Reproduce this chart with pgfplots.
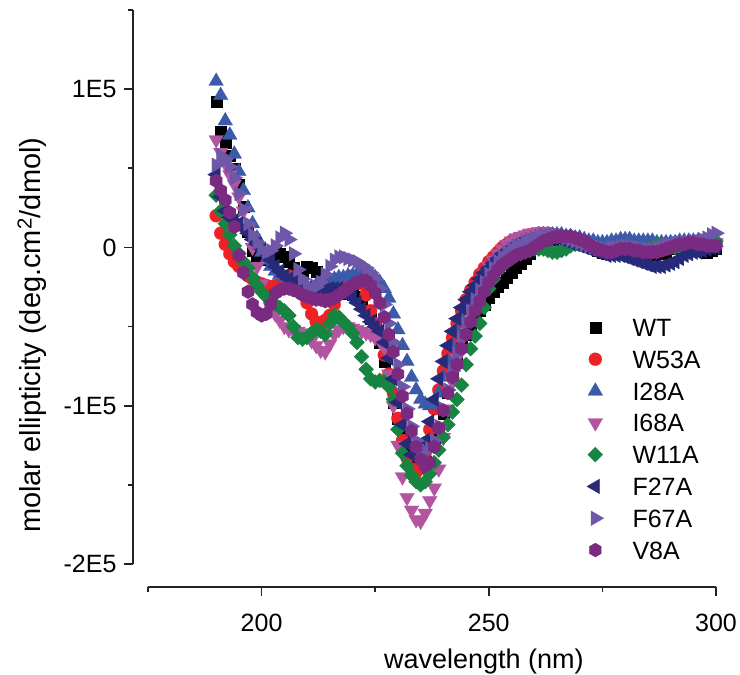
\documentclass[border=0pt]{standalone}
\usepackage{fontspec}
\setmainfont{Liberation Sans}
\usepackage{pgfplots}
\usepackage{pgfplotstable}
\pgfplotsset{compat=1.18}

\definecolor{cWT}{HTML}{000000}
\definecolor{cW53}{HTML}{EC2227}
\definecolor{cI28}{HTML}{3B5BAA}
\definecolor{cI68}{HTML}{B354A1}
\definecolor{cW11}{HTML}{178441}
\definecolor{cF27}{HTML}{262A78}
\definecolor{cF67}{HTML}{6E56A8}
\definecolor{cV8}{HTML}{7A2A80}
\definecolor{axc}{HTML}{222222}

\pgfdeclareplotmark{hexagon*}{%
  \pgfpathmoveto{\pgfqpointpolar{90}{\pgfplotmarksize}}%
  \pgfpathlineto{\pgfqpointpolar{150}{\pgfplotmarksize}}%
  \pgfpathlineto{\pgfqpointpolar{210}{\pgfplotmarksize}}%
  \pgfpathlineto{\pgfqpointpolar{270}{\pgfplotmarksize}}%
  \pgfpathlineto{\pgfqpointpolar{330}{\pgfplotmarksize}}%
  \pgfpathlineto{\pgfqpointpolar{30}{\pgfplotmarksize}}%
  \pgfpathclose
  \pgfusepathqfillstroke
}

\pgfplotsset{
  mk/.style n args={4}{only marks, mark=#1, mark size=#3,
    mark options={solid, fill=#2, draw=#2, line width=0.2pt, #4}, color=#2,
    legend image code/.code={\path (-9pt,-9pt) (9pt,9pt);
      \draw[##1] plot coordinates {(0pt,0pt)};}},
}

% molar ellipticity in units of 1E4 deg cm^2/dmol
\pgfplotstableread{
nm WT W53A I28A I68A W11A F27A F67A V8A
190 9.2 2.0 10.5 6.8 3.3 4.6 5.2 4.2
191 7.3 0.9 9.6 6.0 2.3 3.2 5.8 3.6
192 6.6 0.2 8.0 5.3 1.5 2.3 5.6 3.0
193 5.8 -0.4 7.1 4.6 0.8 1.9 5.1 2.2
194 5.0 -0.9 5.9 4.0 0.1 1.7 4.4 1.3
195 4.0 -1.2 4.8 3.2 -0.4 1.5 3.4 -0.5
196 2.6 -1.5 3.6 2.3 -0.9 1.2 2.4 -1.6
197 1.0 -1.8 2.5 1.2 -1.3 0.9 1.5 -2.8
198 -0.2 -2.0 1.5 0.0 -1.9 0.5 0.8 -3.6
199 -0.5 -2.2 0.6 -1.2 -2.4 0.2 0.3 -4.1
200 -0.8 -2.3 -0.3 -2.3 -2.8 -0.1 -0.1 -4.3
201 -0.7 -2.4 -0.8 -3.2 -3.1 -0.4 -0.3 -4.2
202 -0.5 -2.5 -1.2 -3.8 -3.4 -0.8 -0.2 -3.6
203 -0.3 -2.4 -1.5 -4.2 -3.6 -1.2 0.1 -2.9
204 -0.4 -2.3 -1.7 -4.6 -3.8 -1.5 0.6 -2.7
205 -0.6 -2.0 -1.9 -5.0 -4.0 -1.8 0.9 -2.6
206 -0.9 -1.8 -2.0 -5.2 -4.3 -2.0 0.5 -2.6
207 -1.3 -1.9 -2.2 -5.2 -5.0 -2.2 -0.4 -2.7
208 -1.6 -2.3 -2.3 -5.3 -5.7 -2.4 -1.4 -2.8
209 -1.5 -2.8 -2.4 -5.4 -5.8 -2.5 -2.0 -3.0
210 -1.2 -3.5 -2.5 -5.6 -5.7 -2.6 -2.4 -3.1
211 -1.3 -4.2 -2.5 -5.9 -5.4 -2.6 -2.6 -3.2
212 -1.5 -4.7 -2.4 -6.2 -5.2 -2.6 -2.5 -3.3
213 -1.9 -4.8 -2.3 -6.5 -5.3 -2.6 -2.2 -3.3
214 -2.2 -4.6 -2.2 -6.6 -5.5 -2.6 -1.7 -3.4
215 -2.4 -4.3 -2.1 -6.1 -4.8 -2.6 -1.2 -3.3
216 -2.3 -3.6 -2.0 -5.5 -4.3 -2.6 -0.8 -3.2
217 -2.5 -2.8 -1.9 -5.2 -4.4 -2.6 -0.6 -3.0
218 -2.8 -2.2 -1.9 -5.0 -4.7 -2.7 -0.6 -2.8
219 -2.9 -1.9 -1.8 -5.0 -5.0 -2.9 -0.7 -2.6
220 -3.0 -1.8 -1.8 -5.1 -5.4 -3.2 -0.8 -2.4
221 -3.1 -2.0 -1.7 -5.2 -6.0 -3.5 -0.9 -2.2
222 -3.6 -2.3 -1.7 -5.3 -6.9 -3.9 -1.1 -2.1
223 -4.0 -3.0 -1.7 -5.4 -7.7 -4.3 -1.3 -2.1
224 -4.5 -4.0 -1.8 -5.5 -8.3 -4.7 -1.6 -2.4
225 -5.1 -4.8 -1.9 -5.7 -8.5 -5.0 -2.0 -2.9
226 -6.0 -5.6 -2.2 -5.9 -8.4 -5.3 -2.6 -3.5
227 -7.2 -6.8 -2.6 -6.3 -8.5 -6.0 -3.6 -4.4
228 -8.5 -8.0 -3.2 -8.0 -8.8 -7.0 -4.8 -5.5
229 -9.8 -9.2 -4.2 -10.0 -9.6 -8.3 -6.0 -6.6
230 -10.8 -10.8 -5.2 -12.5 -11.5 -9.8 -7.4 -8.0
231 -11.8 -12.2 -6.2 -14.5 -13.0 -11.2 -8.8 -9.4
232 -12.6 -13.3 -7.2 -15.8 -13.8 -12.4 -10.2 -10.5
233 -13.3 -14.0 -8.2 -16.6 -14.4 -13.1 -11.3 -11.6
234 -13.8 -14.2 -9.0 -17.2 -14.8 -13.2 -12.2 -12.6
235 -13.9 -13.8 -9.6 -17.3 -15.0 -12.9 -12.7 -13.4
236 -13.5 -13.0 -9.9 -16.8 -14.8 -12.2 -12.9 -13.8
237 -12.5 -11.5 -10.0 -16.0 -14.3 -11.0 -12.7 -13.6
238 -12.0 -10.2 -9.9 -15.2 -13.6 -9.6 -12.2 -12.6
239 -11.6 -9.0 -9.2 -14.0 -12.8 -8.3 -11.3 -11.4
240 -10.5 -7.8 -8.2 -12.0 -12.0 -7.2 -10.2 -10.3
241 -9.2 -6.7 -7.2 -10.2 -11.2 -6.2 -9.0 -9.2
242 -8.0 -5.7 -6.2 -8.5 -10.4 -5.3 -7.8 -8.2
243 -7.0 -4.8 -5.3 -7.0 -9.6 -4.5 -6.7 -7.4
244 -6.2 -4.0 -4.5 -5.8 -8.7 -3.8 -5.7 -6.4
245 -5.5 -3.3 -3.8 -4.7 -7.4 -3.3 -4.8 -5.5
246 -4.9 -2.7 -3.2 -3.8 -6.4 -2.8 -4.0 -4.7
247 -4.4 -2.2 -2.6 -3.0 -5.6 -2.4 -3.3 -4.0
248 -4.0 -1.7 -2.1 -2.3 -4.8 -2.0 -2.7 -3.4
249 -3.6 -1.3 -1.6 -1.7 -3.8 -1.6 -2.2 -2.8
250 -3.2 -0.9 -1.2 -1.2 -2.6 -1.3 -1.7 -2.2
251 -2.8 -0.6 -0.9 -0.8 -2.0 -1.0 -1.3 -1.8
252 -2.5 -0.3 -0.6 -0.4 -1.5 -0.7 -0.9 -1.4
253 -2.2 0.0 -0.3 -0.1 -1.2 -0.4 -0.6 -1.1
254 -1.9 0.2 -0.1 0.2 -0.9 -0.2 -0.3 -0.9
255 -1.6 0.4 0.1 0.4 -0.7 0.0 -0.1 -0.7
256 -1.3 0.5 0.3 0.6 -0.5 0.2 0.1 -0.5
257 -1.0 0.6 0.4 0.7 -0.4 0.3 0.2 -0.4
258 -0.7 0.7 0.5 0.8 -0.3 0.4 0.4 -0.3
259 -0.4 0.8 0.6 0.9 -0.2 0.5 0.5 -0.2
260 -0.1 0.8 0.7 0.9 -0.1 0.5 0.6 0.0
261 0.2 0.9 0.8 1.0 -0.1 0.5 0.7 0.2
262 0.4 0.9 0.8 1.0 -0.1 0.5 0.8 0.4
263 0.5 0.9 0.8 0.9 -0.2 0.6 0.8 0.5
264 0.5 0.8 0.8 0.9 -0.3 0.6 0.8 0.6
265 0.6 0.8 0.8 0.8 -0.3 0.6 0.8 0.7
266 0.6 0.7 0.8 0.8 -0.2 0.5 0.7 0.7
267 0.6 0.7 0.7 0.7 -0.1 0.4 0.6 0.7
268 0.5 0.6 0.7 0.6 0.1 0.3 0.5 0.7
269 0.5 0.5 0.6 0.5 0.2 0.2 0.4 0.6
270 0.4 0.4 0.6 0.4 0.2 0.1 0.3 0.5
271 0.3 0.3 0.5 0.3 0.2 0.0 0.2 0.4
272 0.1 0.2 0.4 0.2 0.1 -0.1 0.1 0.2
273 -0.1 0.1 0.4 0.1 0.0 -0.2 0.0 0.0
274 -0.2 0.0 0.3 0.0 -0.1 -0.3 -0.1 -0.1
275 -0.3 -0.1 0.3 0.0 -0.2 -0.4 -0.1 -0.2
276 -0.4 -0.2 0.3 -0.1 -0.2 -0.5 -0.1 -0.3
277 -0.4 -0.2 0.4 -0.1 -0.2 -0.5 0.0 -0.3
278 -0.3 -0.2 0.4 0.0 -0.1 -0.5 0.0 -0.2
279 -0.3 -0.1 0.5 0.0 0.0 -0.5 0.1 -0.1
280 -0.2 -0.1 0.5 0.1 0.0 -0.6 0.1 -0.1
281 -0.3 -0.1 0.5 0.1 0.0 -0.7 0.1 -0.1
282 -0.3 -0.2 0.4 0.0 -0.1 -0.8 0.0 -0.2
283 -0.4 -0.2 0.4 0.0 -0.1 -0.9 0.0 -0.2
284 -0.4 -0.3 0.4 -0.1 -0.2 -1.0 -0.1 -0.3
285 -0.5 -0.3 0.4 -0.1 -0.1 -1.1 -0.1 -0.3
286 -0.5 -0.3 0.4 -0.1 0.0 -1.2 -0.1 -0.3
287 -0.4 -0.2 0.3 0.0 0.2 -1.2 0.0 -0.3
288 -0.4 -0.2 0.3 0.0 0.2 -1.2 0.1 -0.2
289 -0.3 -0.1 0.3 0.1 0.1 -1.1 0.2 -0.1
290 -0.1 0.0 0.3 0.1 0.0 -1.0 0.2 0.0
291 0.0 0.1 0.3 0.2 0.0 -0.9 0.3 0.1
292 0.1 0.1 0.4 0.2 0.0 -0.7 0.3 0.2
293 0.1 0.2 0.4 0.3 0.1 -0.5 0.3 0.2
294 0.1 0.2 0.4 0.3 0.2 -0.4 0.3 0.3
295 0.0 0.3 0.4 0.3 0.2 -0.3 0.4 0.3
296 -0.1 0.3 0.4 0.3 0.2 -0.3 0.4 0.2
297 -0.2 0.2 0.3 0.3 0.2 -0.2 0.5 0.2
298 -0.3 0.2 0.3 0.3 0.3 -0.1 0.6 0.1
299 -0.2 0.2 0.3 0.3 0.4 0.0 0.8 0.1
300 -0.1 0.2 0.3 0.3 0.4 0.0 0.9 0.1
}\cd

\begin{document}
\begin{tikzpicture}
\begin{axis}[
  scale only axis, width=568pt, height=554pt,
  xmin=175, xmax=300, ymin=-20, ymax=15,
  clip=false,
  axis x line*=bottom, axis y line*=left,
  axis x line shift=23pt, axis y line shift=15pt,
  axis line style={line width=1.6pt, color=axc, -},
  every tick/.style={line width=1.6pt, color=axc},
  tick align=outside,
  major tick length=9pt, minor tick length=5pt,
  xtick={200,250,300}, xticklabels={200,250,300},
  minor xtick={175,225,275},
  ytick={-20,-10,0,10}, yticklabels={-2E5,-1E5,0,1E5},
  minor ytick={-15,-5,5,15},
  font=\fontsize{25}{30}\selectfont,
  tick label style={font=\fontsize{25}{30}\selectfont},
  xticklabel style={yshift=-15pt},
  yticklabel style={xshift=-4pt},
  xlabel={wavelength (nm)},
  ylabel={molar ellipticity (deg.cm\textsuperscript{2}/dmol)},
  xlabel style={font=\fontsize{27}{32}\selectfont, at={(rel axis cs:0.5915,-0.1769)}, anchor=center},
  ylabel style={font=\fontsize{29}{34}\selectfont, at={(rel axis cs:-0.2042,0.413)}, anchor=center},
  legend cell align=left,
  legend style={at={(rel axis cs:0.771,0.444)}, anchor=north west,
    draw=none, fill=none, inner sep=0pt, row sep=13.4pt, column sep=28pt,
    nodes={inner sep=0pt, text height=18pt, text depth=0pt},
    font=\fontsize{25}{30}\selectfont},
]
\addplot[mk={square*}{cWT}{5.5pt}{}] table[x=nm,y=WT]{\cd};
\addlegendentry{WT}
\addplot[mk={*}{cW53}{6.5pt}{}] table[x=nm,y=W53A]{\cd};
\addlegendentry{W53A}
\addplot[mk={triangle*}{cI28}{8.5pt}{}] table[x=nm,y=I28A]{\cd};
\addlegendentry{I28A}
\addplot[mk={triangle*}{cI68}{8.5pt}{rotate=180}] table[x=nm,y=I68A]{\cd};
\addlegendentry{I68A}
\addplot[mk={square*}{cW11}{5.3pt}{rotate=45}] table[x=nm,y=W11A]{\cd};
\addlegendentry{W11A}
\addplot[mk={triangle*}{cF27}{8.5pt}{rotate=90}] table[x=nm,y=F27A]{\cd};
\addlegendentry{F27A}
\addplot[mk={triangle*}{cF67}{8.5pt}{rotate=-90}] table[x=nm,y=F67A]{\cd};
\addlegendentry{F67A}
\addplot[mk={hexagon*}{cV8}{7pt}{}] table[x=nm,y=V8A]{\cd};
\addlegendentry{V8A}
\coordinate (bbsw) at (rel axis cs:0,0);
\end{axis}
\pgfresetboundingbox
\path[use as bounding box] ([xshift=-148pt,yshift=-111pt]bbsw) rectangle ([xshift=592pt,yshift=564pt]bbsw);
\end{tikzpicture}
\end{document}
